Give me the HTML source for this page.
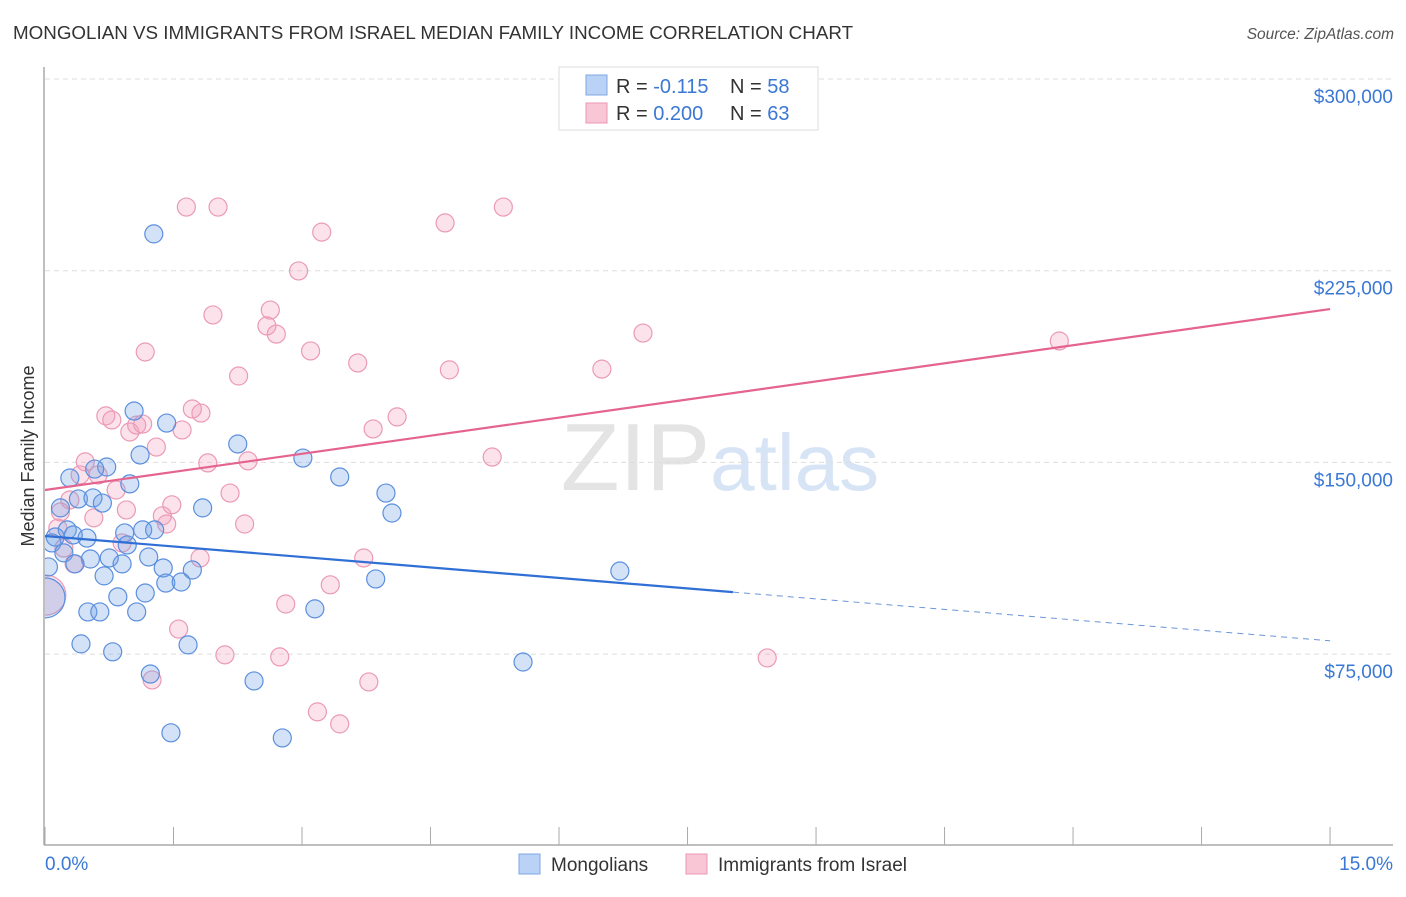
<!DOCTYPE html>
<html><head><meta charset="utf-8"><style>
body{margin:0;background:#fff;font-family:"Liberation Sans",sans-serif;}
svg text{font-family:"Liberation Sans",sans-serif;}
</style></head><body>
<svg id="chart" width="1406" height="892" xmlns="http://www.w3.org/2000/svg">
<defs><clipPath id="plotclip"><rect x="45" y="60" width="1360" height="785"/></clipPath></defs>
<text x="13" y="39" font-size="18.8" fill="#333">MONGOLIAN VS IMMIGRANTS FROM ISRAEL MEDIAN FAMILY INCOME CORRELATION CHART</text>
<text x="1394" y="39" font-size="15.5" fill="#555" font-style="italic" text-anchor="end">Source: ZipAtlas.com</text>
<text x="720" y="490" font-size="96" text-anchor="middle" fill="#e4e4e4" font-family="Liberation Serif">ZIP<tspan fill="#d6e4f5" font-family="Liberation Sans" font-size="80">atlas</tspan></text>
<g id="grid"></g><g id="axes"></g><g id="pts" clip-path="url(#plotclip)"></g><g id="lines"></g>
<text transform="translate(34,456) rotate(-90)" font-size="18" fill="#333" text-anchor="middle">Median Family Income</text>
<text x="45" y="870" font-size="19" fill="#3a78d4">0.0%</text>
<text x="1393" y="870" font-size="19" fill="#3a78d4" text-anchor="end">15.0%</text>
<g>
<rect x="559" y="67" width="259" height="63" fill="#fff" stroke="#ddd"/>
<rect x="586" y="75" width="21" height="20" fill="#b9d2f5" stroke="#7fa8e4"/>
<rect x="586" y="103" width="21" height="20" fill="#f9c6d6" stroke="#eb96b3"/>
<text x="616" y="93" font-size="20" fill="#333">R = <tspan fill="#3a78d4">-0.115</tspan><tspan x="730">N = </tspan><tspan fill="#3a78d4">58</tspan></text>
<text x="616" y="120" font-size="20" fill="#333">R = <tspan fill="#3a78d4">0.200</tspan><tspan x="730">N = </tspan><tspan fill="#3a78d4">63</tspan></text>
</g>
<g>
<rect x="519" y="854" width="21" height="20" fill="#b9d2f5" stroke="#7fa8e4"/>
<text x="551" y="871" font-size="19" fill="#333">Mongolians</text>
<rect x="686" y="854" width="21" height="20" fill="#f9c6d6" stroke="#eb96b3"/>
<text x="718" y="871" font-size="19" fill="#333">Immigrants from Israel</text>
</g>
</svg>
<script>
const yTicks=[75000,150000,225000,300000];
const yTickLabels=["$75,000","$150,000","$225,000","$300,000"];
const blueX=[1.27,1.04,1.42,1.11,2.25,3.01,3.44,0.72,0.29,0.58,0.99,0.39,0.56,0.67,1.84,3.98,4.05,0.18,0.26,0.12,0.49,0.33,0.08,0.93,1.14,1.28,0.22,0.53,0.75,0.96,1.21,0.9,0.04,0.35,0.69,1.38,1.72,1.41,1.59,3.86,6.71,0.85,1.17,0.5,0.64,1.07,3.15,0.42,0.79,1.67,1.23,5.58,2.44,1.47,2.77,0.0];
const blueY=[239.4,170.1,165.4,152.9,157.2,151.7,144.3,148.2,143.9,147.4,141.6,135.7,136.1,134.1,132.2,138,130.2,132.2,123.6,120.8,120.4,121.6,118.5,122.4,123.6,123.6,114.6,112.2,112.6,117.7,113.0,110.3,109.1,110.3,105.6,108.7,107.9,102.8,103.2,104.4,107.5,97.4,98.9,91.5,91.5,91.5,92.7,79,75.9,78.6,67.2,71.9,64.5,44.2,42.2,97];
const pinkX=[1.65,2.02,5.35,4.67,3.23,2.96,2.63,1.96,2.59,2.7,6.98,11.84,1.17,3.1,3.65,2.26,4.72,6.5,0.71,0.78,1.82,1.72,4.11,0.99,1.07,1.14,1.6,1.3,3.83,0.47,0.41,1.9,2.37,5.22,0.62,0.83,0.29,2.16,0.18,0.57,0.95,1.37,1.42,2.33,1.48,0.15,0.9,0.22,0.34,1.81,3.72,3.33,2.81,1.56,2.1,2.74,8.43,1.25,3.78,3.18,3.44,0.01];
const pinkY=[249.9,249.9,249.9,243.7,240.1,224.9,209.6,207.7,203.4,200.2,200.6,197.5,193.2,193.6,188.9,183.8,186.2,186.5,168.2,166.6,169.3,170.9,167.8,161.9,164.6,165,162.7,156,163.1,150.2,145.1,149.8,150.6,152.1,145.1,139.2,135.3,138,130.6,128.3,131.4,129.1,125.9,125.9,133.4,124.3,118.5,116.5,110.3,112.6,112.6,102.1,94.6,84.8,74.7,73.9,73.5,64.9,64.1,52.4,47.7,98.1];
const blueTrend=[121.2,80.2];
const pinkTrend=[139.2,210.0];
const blueSolidEnd=8.03;
const NS="http://www.w3.org/2000/svg";
const X=p=>45+p*85.67;
const Y=k=>79+(300-k)*2.556;
function mk(tag,attrs,parent){const e=document.createElementNS(NS,tag);for(const k in attrs)e.setAttribute(k,attrs[k]);parent.appendChild(e);return e;}
const grid=document.getElementById('grid'),axes=document.getElementById('axes'),pts=document.getElementById('pts'),lines=document.getElementById('lines');
yTicks.forEach((t,i)=>{const y=Y(t/1000);
const g=mk('line',{x1:45,x2:1393,y1:y,y2:y,stroke:'#ddd','stroke-dasharray':'5,4'},grid);


const tx=mk('text',{x:1393,y:y+24,'font-size':19,fill:'#3a78d4','text-anchor':'end'},grid);tx.textContent=yTickLabels[i];

});
const ax=mk('line',{x1:44,x2:44,y1:67,y2:845,stroke:'#aaa','stroke-width':1.5},axes);


const bx=mk('line',{x1:44,x2:1393,y1:845,y2:845,stroke:'#aaa','stroke-width':1.5},axes);


for(let i=0;i<=10;i++){const t=mk('line',{x1:X(i*1.5),x2:X(i*1.5),y1:827,y2:845,stroke:'#aaa'},axes);

}
function dots(xs,ys,fill,stroke,name){xs.forEach((x,i)=>{const big=(x<0.02);
const c=mk('circle',{cx:X(x),cy:Y(ys[i]),r:big?20:9,fill:fill,stroke:stroke,'stroke-width':1.2},pts);

});}
dots(pinkX,pinkY,'rgba(243,160,188,0.3)','#eb9ab6','israel-point');
dots(blueX,blueY,'rgba(110,160,230,0.3)','#5b8fde','mongolian-point');
const bt=p=>blueTrend[0]+(blueTrend[1]-blueTrend[0])*p/15;
const l1=mk('line',{x1:X(0),y1:Y(bt(0)),x2:X(blueSolidEnd),y2:Y(bt(blueSolidEnd)),stroke:'#2f6fd6','stroke-width':2.2},lines);


const l2=mk('line',{x1:X(blueSolidEnd),y1:Y(bt(blueSolidEnd)),x2:X(15),y2:Y(bt(15)),stroke:'#6b95d8','stroke-width':1,'stroke-dasharray':'6,5'},lines);


const l3=mk('line',{x1:X(0),y1:Y(pinkTrend[0]),x2:X(15),y2:Y(pinkTrend[1]),stroke:'#e4638f','stroke-width':2.2},lines);


</script>
</body></html>
